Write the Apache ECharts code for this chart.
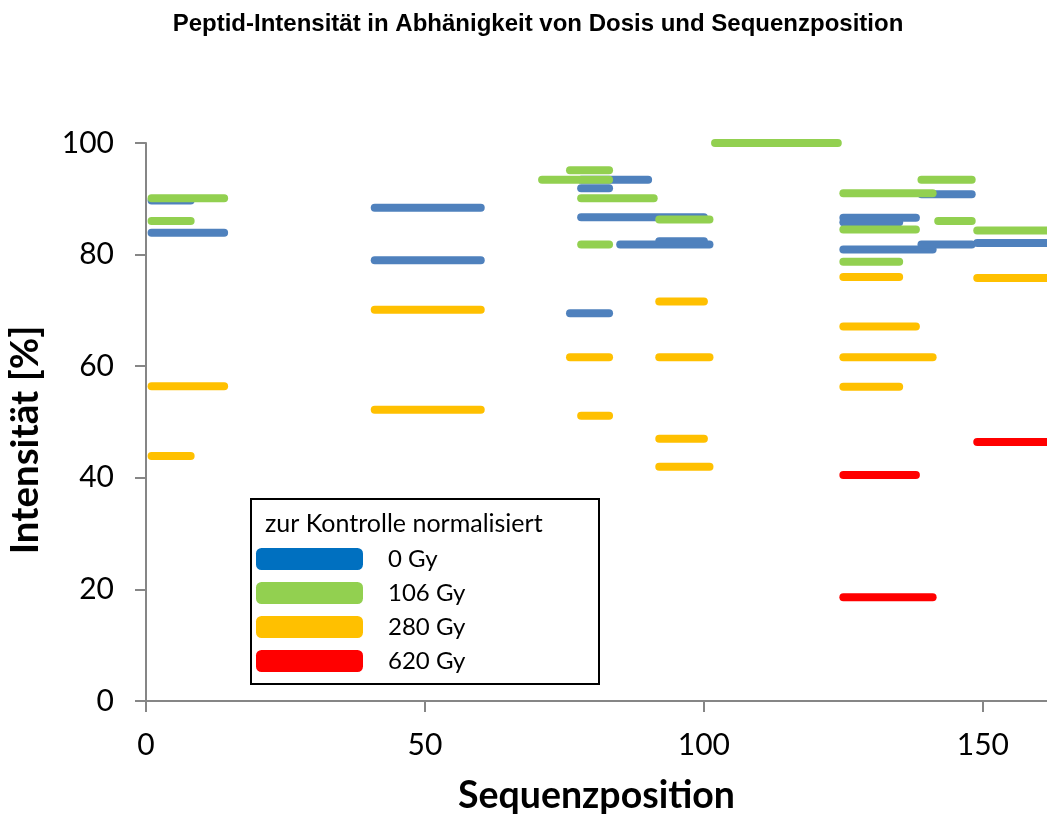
<!DOCTYPE html>
<html>
<head>
<meta charset="utf-8">
<title>Peptid-Intensität</title>
<script src="https://cdn.jsdelivr.net/npm/echarts@6/dist/echarts.min.js"></script>
<style>
  html, body { margin: 0; padding: 0; background: #fff; }
  #chart { width: 1047px; height: 818px; }
</style>
</head>
<body>
<div id="chart"></div>
<script>
// Peptide segments: [start position, end position, intensity in %]
const gy0 = [
  [1, 8, 89.7], [1, 14, 83.9],
  [41, 60, 88.4], [41, 60, 79.0],
  [78, 90, 93.4], [78, 83, 91.9], [78, 100, 86.7], [85, 101, 81.8], [92, 100, 82.4], [76, 83, 69.5],
  [125, 138, 86.6], [125, 135, 85.8], [125, 141, 80.9],
  [139, 148, 90.8], [139, 148, 81.8], [149, 162, 82.1]
];
const gy106 = [
  [1, 14, 90.1], [1, 8, 86.0],
  [76, 83, 95.1], [71, 83, 93.4], [78, 91, 90.1], [92, 101, 86.3], [78, 83, 81.8],
  [102, 124, 100.0],
  [139, 148, 93.4], [125, 141, 91.0], [125, 138, 84.5], [142, 148, 86.0], [149, 162, 84.3], [125, 135, 78.7]
];
const gy280 = [
  [1, 14, 56.4], [1, 8, 43.9],
  [41, 60, 70.1], [41, 60, 52.2],
  [92, 100, 71.6], [76, 83, 61.6], [92, 101, 61.6], [78, 83, 51.1], [92, 100, 47.0], [92, 101, 42.0],
  [125, 135, 76.0], [149, 162, 75.8], [125, 138, 67.1], [125, 141, 61.6], [125, 135, 56.3]
];
const gy620 = [
  [149, 162, 46.4], [125, 138, 40.5], [125, 141, 18.6]
];

const doseNames = ['0 Gy', '106 Gy', '280 Gy', '620 Gy'];
const lineColors = ['#4F81BD', '#92D050', '#FFC000', '#FF0000'];
const swatchColors = ['#0070C0', '#92D050', '#FFC000', '#FF0000'];
const xTicks = [0, 50, 100, 150];
const yTicks = [0, 20, 40, 60, 80, 100];

const chart = echarts.init(document.getElementById('chart'));

// Each peptide is drawn as a thick horizontal bar with rounded ends
function segmentSeries(name, data, color) {
  return {
    type: 'custom',
    name: name,
    data: data,
    clip: false,
    encode: { x: [0, 1], y: 2 },
    itemStyle: { color: color },
    renderItem: function (params, api) {
      const a = api.coord([api.value(0), api.value(2)]);
      const b = api.coord([api.value(1), api.value(2)]);
      return {
        type: 'line',
        shape: { x1: a[0], y1: a[1], x2: b[0], y2: b[1] },
        style: { stroke: color, lineWidth: 8, lineCap: 'round' }
      };
    }
  };
}

const axisGray = '#868686';

chart.setOption({
  animation: false,
  backgroundColor: '#fff',
  title: {
    text: 'Peptid-Intensität in Abhänigkeit von Dosis und Sequenzposition',
    left: 533,
    top: 7,
    textAlign: 'center',
    textStyle: { fontFamily: 'Liberation Sans', fontWeight: 'bold', fontSize: 24, color: '#000' }
  },
  grid: { left: 146, right: 0, top: 143, bottom: 117, containLabel: false, outerBoundsMode: 'none' },
  xAxis: {
    type: 'value',
    min: 0,
    max: 161.5,
    interval: 50,
    name: 'Sequenzposition',
    nameLocation: 'middle',
    nameGap: 76,
    nameTextStyle: { fontFamily: 'Lato', fontWeight: 'bold', fontSize: 37.5, color: '#000' },
    axisLine: { lineStyle: { color: axisGray, width: 2 } },
    axisTick: { show: true, length: 11, customValues: xTicks, lineStyle: { color: axisGray, width: 2 } },
    axisLabel: {
      margin: 29, fontFamily: 'Lato', fontSize: 30, color: '#000', customValues: xTicks,
      formatter: v => xTicks.indexOf(v) >= 0 ? String(v) : ''
    },
    splitLine: { show: false }
  },
  yAxis: {
    type: 'value',
    min: 0,
    max: 100,
    interval: 20,
    name: 'Intensität [%]',
    nameLocation: 'middle',
    nameGap: 101,
    nameRotate: 90,
    nameTextStyle: { fontFamily: 'Lato', fontWeight: 'bold', fontSize: 38.5, color: '#000', padding: [0, 36, 0, 0] },
    axisLine: { show: true, lineStyle: { color: axisGray, width: 2 } },
    axisTick: { show: true, length: 11, customValues: yTicks, lineStyle: { color: axisGray, width: 2 } },
    axisLabel: {
      margin: 32, fontFamily: 'Lato', fontSize: 30, color: '#000', customValues: yTicks,
      formatter: v => yTicks.indexOf(v) >= 0 ? String(v) : ''
    },
    splitLine: { show: false }
  },
  graphic: [
    {
      type: 'rect',
      z: 3,
      shape: { x: 251, y: 499, width: 348, height: 185 },
      style: { fill: '#fff', stroke: '#000', lineWidth: 2 }
    },
    {
      type: 'text',
      z: 4,
      left: 265,
      top: 511,
      style: { text: 'zur Kontrolle normalisiert', fontFamily: 'Lato', fontSize: 25, fill: '#000' }
    }
  ],
  legend: {
    orient: 'vertical',
    left: 251,
    top: 542,
    itemWidth: 107,
    itemHeight: 22,
    itemGap: 10,
    icon: 'roundRect',
    selectedMode: false,
    textStyle: { fontFamily: 'Lato', fontSize: 24, color: '#000', padding: [0, 0, 0, 20] },
    data: doseNames.map((n, i) => ({ name: n, itemStyle: { color: swatchColors[i] } }))
  },
  series: [
    segmentSeries(doseNames[0], gy0, lineColors[0]),
    segmentSeries(doseNames[1], gy106, lineColors[1]),
    segmentSeries(doseNames[2], gy280, lineColors[2]),
    segmentSeries(doseNames[3], gy620, lineColors[3])
  ]
});
</script>
</body>
</html>
